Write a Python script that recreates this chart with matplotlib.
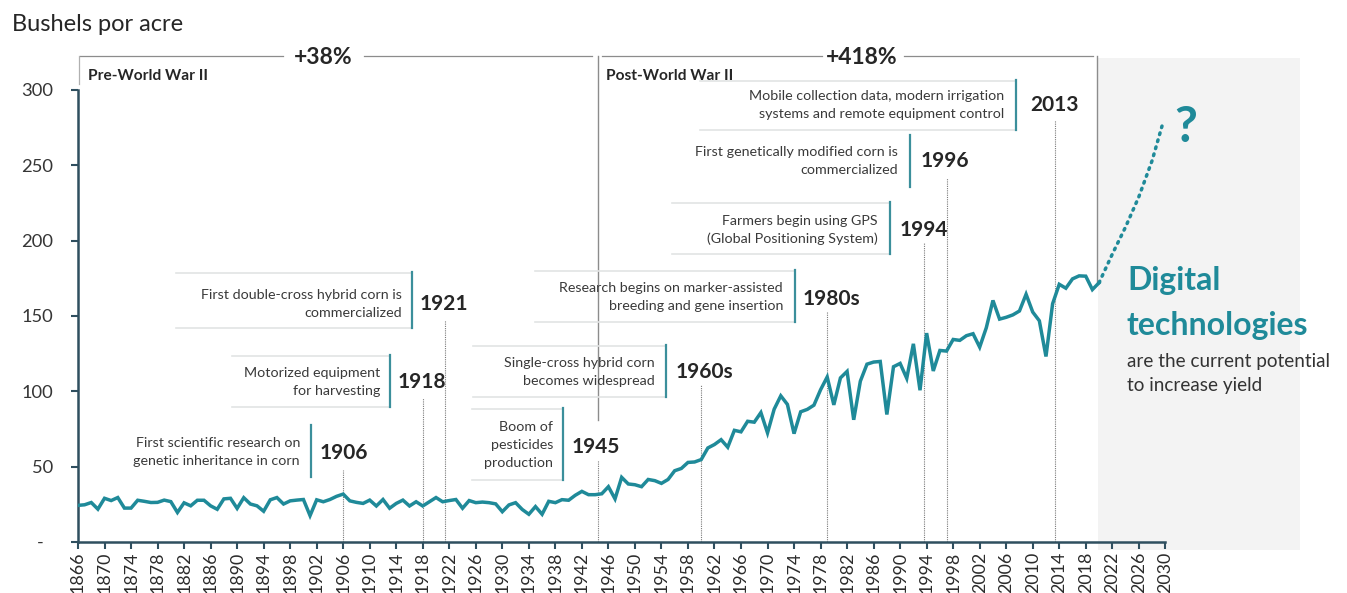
import matplotlib
matplotlib.use("Agg")
import matplotlib.pyplot as plt
from matplotlib.patches import Rectangle

# ---------------- data ----------------
years = list(range(1866, 2021))
yield_bu = [
    24.3, 24.7, 26.2, 21.8, 29.0, 27.5, 29.5, 22.5, 22.5, 27.7,   # 1866-1875
    27.0, 26.2, 26.3, 27.8, 26.8, 19.6, 26.0, 24.0, 27.7, 27.7,   # 1876-1885
    24.0, 21.7, 28.6, 29.0, 22.3, 29.4, 25.2, 24.0, 20.4, 28.0,   # 1886-1895
    29.5, 25.2, 27.3, 27.8, 28.2, 17.5, 28.0, 26.7, 28.2, 30.3,   # 1896-1905
    31.8, 27.3, 26.3, 25.6, 27.8, 23.9, 28.2, 22.4, 25.6, 27.8,   # 1906-1915
    23.9, 26.7, 23.9, 26.7, 29.5, 26.7, 27.5, 28.2, 22.4, 27.5,   # 1916-1925
    26.1, 26.5, 26.1, 25.3, 20.1, 24.6, 26.1, 21.6, 18.4, 23.5,   # 1926-1935
    18.4, 27.0, 26.1, 28.1, 27.7, 31.0, 33.6, 31.4, 31.4, 32.0,   # 1936-1945
    36.7, 28.6, 42.9, 38.5, 38.0, 36.7, 41.5, 40.7, 38.9, 41.5,   # 1946-1955
    47.3, 48.8, 52.8, 53.1, 54.7, 62.4, 64.7, 67.9, 62.9, 74.1,   # 1956-1965
    73.1, 80.1, 79.5, 85.9, 72.4, 88.1, 97.0, 91.3, 71.9, 86.4,   # 1966-1975
    88.0, 90.8, 101.0, 109.5, 91.0, 108.9, 113.2, 81.1, 106.7, 118.0,  # 1976-1985
    119.4, 119.8, 84.6, 116.3, 118.5, 108.6, 131.5, 100.7, 138.6, 113.5,  # 1986-1995
    127.1, 126.7, 134.4, 133.8, 136.9, 138.2, 129.3, 142.2, 160.3, 147.9,  # 1996-2005
    149.1, 150.7, 153.3, 164.4, 152.6, 146.8, 123.1, 158.1, 171.0, 168.4,  # 2006-2015
    174.6, 176.6, 176.4, 167.5, 172.0,                                   # 2016-2020
]
proj_years = [2020, 2022, 2024, 2026, 2028, 2029.5]
proj_vals = [172.0, 191, 209, 229, 253, 276]

x_ticks = list(range(1866, 2031, 4))
y_ticks = [0, 50, 100, 150, 200, 250, 300]
y_tick_labels = ['-  ', '50', '100', '150', '200', '250', '300']

event_labels = ['1906', '1918', '1921', '1945', '1960s', '1980s', '1994', '1996', '2013']
event_x = [1906, 1918, 1921.4, 1944.5, 1960, 1979, 1993.6, 1997, 2013.3]
event_texts = [
    'First scientific research on\ngenetic inheritance in corn',
    'Motorized equipment\nfor harvesting',
    'First double-cross hybrid corn is\ncommercialized',
    'Boom of\npesticides\nproduction',
    'Single-cross hybrid corn\nbecomes widespread',
    'Research begins on marker-assisted\nbreeding and gene insertion',
    'Farmers begin using GPS\n(Global Positioning System)',
    'First genetically modified corn is\ncommercialized',
    'Mobile collection data, modern irrigation\nsystems and remote equipment control',
]
era_labels = ['Pre-World War II', 'Post-World War II']
era_growth = ['+38%', '+418%']

# ---------------- layout (pixels of the 1347x593 canvas) ----------------
W, H = 1347, 593
X0, PXY = 78, 6.63       # x pixel of 1866, pixels per year
Y0, PXV = 542, 1.507     # y pixel of value 0, pixels per bushel


def X(px):
    return 1866 + (px - X0) / PXY


def Y(py):
    return (Y0 - py) / PXV


# text right, text y, bar x, bar top, bar bottom, box left, year-label left, year y, dotted top, box shown
ann_layout = [
    (300, 452, 311, 425, 477, 128, 320, 453, 470, False),
    (380, 382, 390, 355, 407, 232, 398, 382, 398, True),
    (402, 304, 412, 272, 328, 176, 420, 304, 320, True),
    (553, 445, 563, 408, 480, 472, 572, 447, 460, True),
    (655, 372, 666, 345, 397, 473, 676, 372, 385, True),
    (783, 297, 795, 270, 322, 535, 803, 299, 312, True),
    (878, 230, 890, 202, 254, 672, 900, 230, 243, True),
    (898, 161, 910, 135, 187, 680, 921, 161, 178, False),
    (1004, 105, 1016, 80, 130, 700, 1030, 105, 120, True),
]

TEAL = '#1f8a99'
BAR = '#3b8f9b'
AXC = '#2f4f5f'
FONT = ['Lato', 'DejaVu Sans']
plt.rcParams['font.family'] = FONT

fig = plt.figure(figsize=(W / 100, H / 100), dpi=100)
ax = fig.add_axes([X0 / W, (H - Y0) / H, (W - X0) / W, Y0 / H])
ax.set_xlim(1866, X(W))
ax.set_ylim(0, Y(0))

# grey future region
ax.add_patch(Rectangle((X(1098), Y(550)), X(1300) - X(1098), Y(58) - Y(550),
                       facecolor='#f3f3f3', edgecolor='none', zorder=0, clip_on=False))

# spines and ticks
for s in ['top', 'right']:
    ax.spines[s].set_visible(False)
ax.spines['left'].set_bounds(0, 300)
ax.spines['bottom'].set_bounds(1866, 2030)
for s in ['left', 'bottom']:
    ax.spines[s].set_color(AXC)
    ax.spines[s].set_linewidth(1.8)
ax.set_xticks(x_ticks)
ax.set_xticklabels([str(v) for v in x_ticks], rotation=90, fontsize=12.8, color='#2b2b2b')
ax.set_yticks(y_ticks)
ax.set_yticklabels(y_tick_labels, fontsize=13.2, color='#353535')
ax.tick_params(axis='y', length=5, width=1.5, color=AXC, pad=13)
ax.tick_params(axis='x', length=5, width=1.5, color=AXC, pad=2)

# data line + projection
ax.plot(years, yield_bu, color=TEAL, lw=2.5, zorder=5, solid_joinstyle='miter')
ax.plot(proj_years, proj_vals, color=TEAL, lw=2.5, ls=(0, (0.5, 1.6)),
        dash_capstyle='round', zorder=5, clip_on=False)

# era brackets
GR = '#8c8c8c'
ytop = Y(56)
for a, b in [(80, 283), (364, 592), (602, 822), (904, 1093)]:
    ax.plot([X(a), X(b)], [ytop, ytop], color=GR, lw=0.9, clip_on=False)
ax.plot([X(79), X(79)], [Y(56), Y(84)], color='#b0b0b0', lw=0.9, clip_on=False)
ax.plot([X(597.7), X(597.7)], [Y(56), Y(420)], color=GR, lw=1.0, clip_on=False)
ax.plot([2020 - 0.3, 2020 - 0.3], [Y(56), yield_bu[-1]], color=GR, lw=1.0, clip_on=False)
ax.text(X(323), Y(57), era_growth[0], ha='center', va='center', fontsize=16.5,
        fontweight='bold', color='#262626')
ax.text(X(862), Y(57), era_growth[1], ha='center', va='center', fontsize=16.5,
        fontweight='bold', color='#262626')
ax.text(X(88), Y(76), era_labels[0], ha='left', va='center', fontsize=11.2,
        fontweight='bold', color='#262626')
ax.text(X(606), Y(76), era_labels[1], ha='left', va='center', fontsize=11.2,
        fontweight='bold', color='#262626')

# annotations
for txt, lab, ex, lay in zip(event_texts, event_labels, event_x, ann_layout):
    tr, ty, bx, bt, bb, bl, yl, yy, dt, box = lay
    if box:
        for yb in (bt + 1, bb):
            ax.plot([X(bl), X(bx)], [Y(yb), Y(yb)], color='#e2e4e4', lw=1.2, zorder=2,
                    clip_on=False)
    ax.plot([X(bx), X(bx)], [Y(bt), Y(bb)], color=BAR, lw=1.6, zorder=3, clip_on=False)
    ax.text(X(tr), Y(ty), txt, ha='right', va='center', fontsize=10.3, color='#3a3a3a',
            linespacing=1.6, zorder=4)
    ax.text(X(yl), Y(yy), lab, ha='left', va='center', fontsize=15, fontweight='bold',
            color='#262626', zorder=4)
    ax.plot([ex, ex], [0, Y(dt)], color='#7a7a7a', lw=0.8, ls=(0, (1, 1)), zorder=1)

# right side text
ax.text(X(1127), Y(281), 'Digital', ha='left', va='center', fontsize=23,
        fontweight='bold', color=TEAL, clip_on=False)
ax.text(X(1127), Y(326), 'technologies', ha='left', va='center', fontsize=23,
        fontweight='bold', color=TEAL, clip_on=False)
ax.text(X(1127), Y(361), 'are the current potential', ha='left', va='center',
        fontsize=13.6, color='#333333', clip_on=False)
ax.text(X(1127), Y(386), 'to increase yield', ha='left', va='center',
        fontsize=13.6, color='#333333', clip_on=False)
ax.text(X(1186), Y(128), '?', ha='center', va='center', fontsize=36,
        fontweight='bold', color=TEAL, clip_on=False)

# y-axis title
ax.text(X(12), Y(25), 'Bushels por acre', ha='left', va='center', fontsize=17,
        color='#262626', clip_on=False)

fig.savefig('out.png', dpi=100)
